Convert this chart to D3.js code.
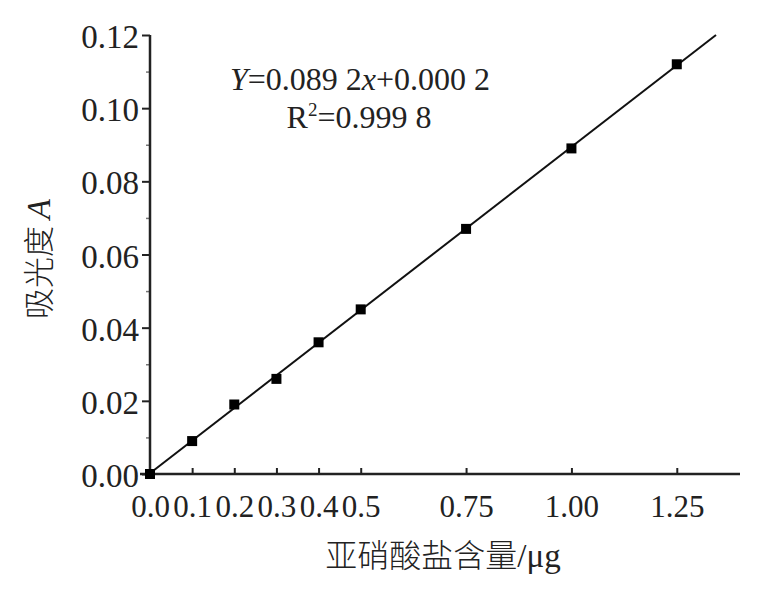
<!DOCTYPE html>
<html>
<head>
<meta charset="utf-8">
<script src="https://cdn.jsdelivr.net/npm/d3@7"></script>
<style>
  body { margin: 0; background: #fff; }
  svg text { font-family: "Liberation Serif", "Times New Roman", serif; fill: #222; }
  .cjk { font-family: "Noto Sans CJK SC", sans-serif; font-weight: 300; }
</style>
</head>
<body>
<div id="chart"></div>
<script>
// standard curve data
const amounts = [0, 0.1, 0.2, 0.3, 0.4, 0.5, 0.75, 1.0, 1.25];
const absorbance = [0.0, 0.009, 0.019, 0.026, 0.036, 0.045, 0.067, 0.089, 0.112];
const xTickValues = [0, 0.1, 0.2, 0.3, 0.4, 0.5, 0.75, 1.0, 1.25];
const xTickLabels = ["0.0", "0.1", "0.2", "0.3", "0.4", "0.5", "0.75", "1.00", "1.25"];
const yTickValues = [0, 0.02, 0.04, 0.06, 0.08, 0.10, 0.12];
const yMinorValues = [0.01, 0.03, 0.05, 0.07, 0.09, 0.11];
const slope = 0.0892;
const intercept = 0.0002;

const width = 767, height = 591;

const x = d3.scaleLinear().domain([0, 1.4]).range([150, 740]);
const y = d3.scaleLinear().domain([0, 0.12]).range([474, 35]);

const svg = d3.select("#chart").append("svg")
    .attr("width", width)
    .attr("height", height);

// x axis, ticks pointing up
const xAxis = d3.axisBottom(x)
    .tickValues(xTickValues)
    .tickFormat((d, i) => xTickLabels[i])
    .tickSizeInner(-6)
    .tickSizeOuter(0);

const gx = svg.append("g")
    .attr("transform", `translate(0,${y(0)})`)
    .call(xAxis);
gx.select(".domain").remove();
gx.selectAll(".tick line").attr("stroke", "#222").attr("stroke-width", 2);
gx.selectAll(".tick").filter(d => d === 0).select("line").remove();
gx.selectAll(".tick text")
    .attr("y", 21)
    .attr("font-size", 31)
    .attr("font-family", "Liberation Serif");

svg.append("line")
    .attr("x1", 140).attr("x2", 740)
    .attr("y1", y(0)).attr("y2", y(0))
    .attr("stroke", "#222").attr("stroke-width", 2.5);

// y axis
const gyMinor = svg.append("g")
    .attr("transform", `translate(${x(0)},0)`)
    .call(d3.axisLeft(y).tickValues(yMinorValues).tickSize(4).tickFormat(""));
gyMinor.select(".domain").remove();
gyMinor.selectAll(".tick line").attr("stroke", "#777").attr("stroke-width", 1.5);

const gy = svg.append("g")
    .attr("transform", `translate(${x(0)},0)`)
    .call(d3.axisLeft(y).tickValues(yTickValues).tickSize(8).tickPadding(3).tickFormat(d3.format(".2f")));
gy.select(".domain").remove();
gy.selectAll(".tick line").attr("stroke", "#222").attr("stroke-width", 2);
gy.selectAll(".tick text")
    .attr("dy", "0.38em")
    .attr("font-size", 33)
    .attr("font-family", "Liberation Serif");

svg.append("line")
    .attr("x1", x(0)).attr("x2", x(0))
    .attr("y1", y(0) + 1).attr("y2", y(0.12))
    .attr("stroke", "#222").attr("stroke-width", 2.5);

// fitted line, drawn up to the top of the y range
const xEnd = (0.12 - intercept) / slope;
svg.append("line")
    .attr("x1", x(0)).attr("y1", y(intercept))
    .attr("x2", x(xEnd)).attr("y2", y(slope * xEnd + intercept))
    .attr("stroke", "#111").attr("stroke-width", 2);

// markers
const s = 10;
svg.selectAll("rect.pt")
    .data(amounts.map((d, i) => [d, absorbance[i]]))
    .enter().append("rect")
    .attr("class", "pt")
    .attr("x", d => x(d[0]) - s / 2)
    .attr("y", d => y(d[1]) - s / 2)
    .attr("width", s)
    .attr("height", s)
    .attr("fill", "#000");

// equation
const eq = svg.append("text")
    .attr("x", 360).attr("y", 90)
    .attr("text-anchor", "middle")
    .attr("font-size", 32);
eq.append("tspan").attr("font-style", "italic").text("Y");
eq.append("tspan").text("=0.089 2");
eq.append("tspan").attr("font-style", "italic").text("x");
eq.append("tspan").text("+0.000 2");

const r2 = svg.append("text")
    .attr("x", 359).attr("y", 128)
    .attr("text-anchor", "middle")
    .attr("font-size", 32);
r2.append("tspan").text("R");
r2.append("tspan").attr("font-size", 19).attr("dy", -12).text("2");
r2.append("tspan").attr("dy", 12).text("=0.999 8");

// axis titles
const xt = svg.append("text")
    .attr("x", 443).attr("y", 567)
    .attr("text-anchor", "middle")
    .attr("font-size", 33);
xt.append("tspan").attr("class", "cjk").attr("font-size", 32).text("亚硝酸盐含量");
xt.append("tspan").text("/μg");

const yt = svg.append("text")
    .attr("transform", "translate(50,259) rotate(-90)")
    .attr("text-anchor", "middle")
    .attr("font-size", 33);
yt.append("tspan").attr("class", "cjk").attr("font-size", 31).text("吸光度 ");
yt.append("tspan").attr("font-style", "italic").text("A");
</script>
</body>
</html>
